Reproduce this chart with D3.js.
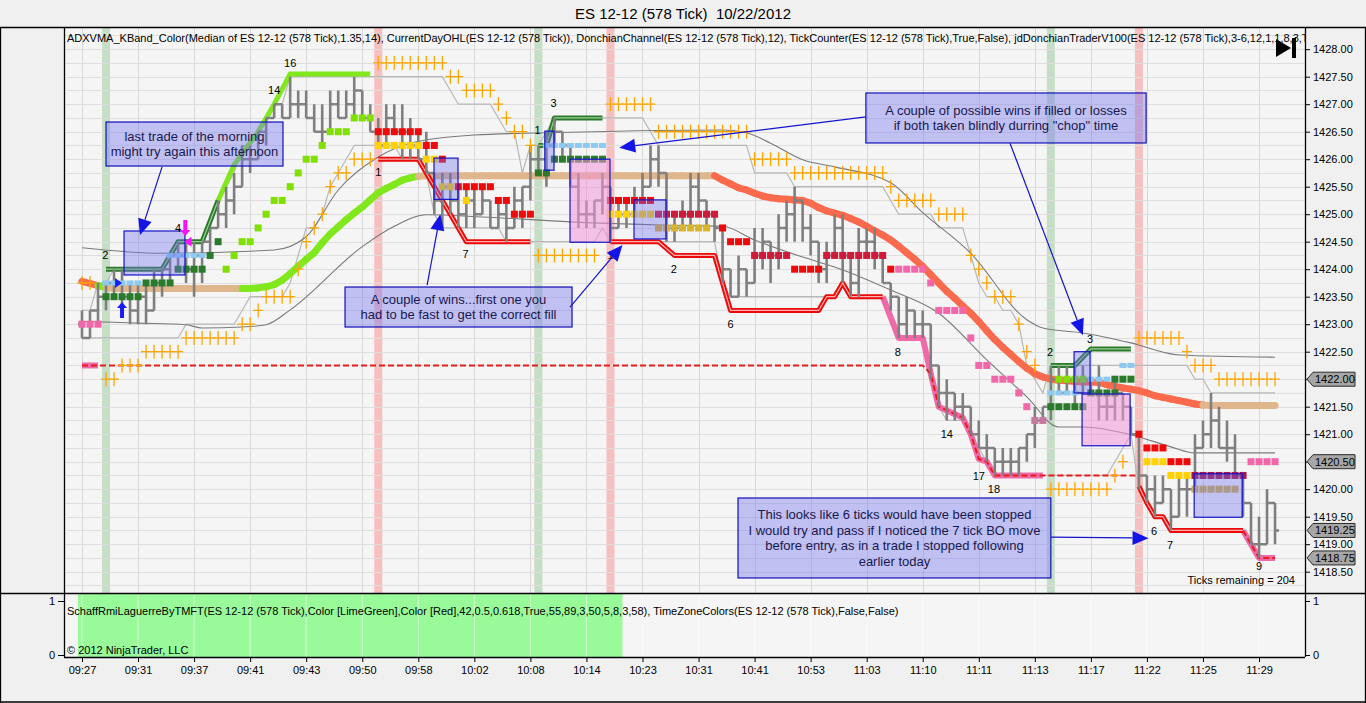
<!DOCTYPE html>
<html><head><meta charset="utf-8">
<script src="https://cdn.jsdelivr.net/npm/d3@7"></script>
<style>
html,body{margin:0;padding:0;background:#f0f0f0;overflow:hidden}
svg{display:block;font-family:Arial,"Liberation Sans",sans-serif}
text{white-space:pre}
</style></head><body>
<svg id="c" width="1366" height="703"></svg>
<script>
// ---------------- DATA ----------------
const chartTitle = "ES 12-12 (578 Tick)  10/22/2012";
const indicatorText = "ADXVMA_KBand_Color(Median of ES 12-12 (578 Tick),1.35,14), CurrentDayOHL(ES 12-12 (578 Tick)), DonchianChannel(ES 12-12 (578 Tick),12), TickCounter(ES 12-12 (578 Tick),True,False), jdDonchianTraderV100(ES 12-12 (578 Tick),3-6,12,1,1,8,3,True)";
const lowerText = "SchaffRmiLaguerreByTMFT(ES 12-12 (578 Tick),Color [LimeGreen],Color [Red],42,0.5,0.618,True,55,89,3,50,5,8,3,58), TimeZoneColors(ES 12-12 (578 Tick),False,False)";
const copyrightText = "\u00A9 2012 NinjaTrader, LLC";
const ticksRemainingText = "Ticks remaining = 204";

const timeLabels = ['09:27','09:31','09:37','09:41','09:43','09:50','09:58','10:02','10:08','10:14','10:23','10:31','10:41','10:53','11:03','11:10','11:11','11:13','11:17','11:22','11:25','11:29'];
const timeBarIdx = [0,7,14,21,28,35,42,49,56,63,70,77,84,91,98,105,112,119,126,133,140,147];
const priceTicks = [1418.5,1419,1419.5,1420,1420.5,1421,1421.5,1422,1422.5,1423,1423.5,1424,1424.5,1425,1425.5,1426,1426.5,1427,1427.5,1428];
const lastValueTags = [1422.00,1420.50,1419.25,1418.75];

const barOpen = [1423.0,1422.75,1423.25,1423.5,1423.75,1423.75,1423.5,1423.25,1423.5,1423.25,
 1423.75,1424.0,1424.25,1424.25,1424.0,1424.25,1424.5,1424.75,1425.0,1425.25,
 1425.5,1426.0,1426.0,1426.5,1426.75,1427.0,1426.75,1427.0,1427.0,1426.75,
 1426.5,1426.5,1427.0,1426.75,1427.0,1427.25,1426.75,1426.5,1426.25,1426.75,
 1426.5,1426.5,1426.25,1426.0,1425.75,1425.25,1425.5,1425.25,1425.0,1425.25,
 1425.0,1425.25,1424.75,1425.0,1424.75,1425.25,1425.5,1426.0,1426.0,1426.25,
 1426.5,1426.25,1425.5,1425.0,1425.0,1425.25,1425.5,1424.75,1425.0,1425.0,
 1425.25,1425.5,1426.0,1425.75,1424.75,1424.75,1425.0,1425.5,1425.25,1425.0,
 1424.75,1424.0,1423.5,1424.0,1423.75,1424.25,1424.5,1424.25,1424.75,1425.0,
 1425.25,1424.75,1424.5,1424.0,1424.25,1424.75,1424.25,1423.75,1424.5,1424.5,
 1424.25,1423.75,1423.5,1423.0,1423.25,1423.0,1423.0,1422.25,1421.75,1421.75,
 1421.5,1421.5,1421.0,1420.75,1420.75,1420.5,1420.5,1420.5,1420.75,1421.0,
 1421.25,1421.5,1422.0,1421.75,1422.0,1421.75,1422.0,1421.75,1421.5,1421.5,
 1421.75,1421.5,1421.0,1420.25,1420.0,1419.75,1420.0,1419.5,1420.0,1420.0,
 1420.75,1421.0,1421.25,1420.75,1420.75,1420.25,1419.75,1419.0,1419.0,1419.75];
const barHigh = [1423.25,1423.25,1423.75,1423.75,1424.0,1424.0,1423.75,1423.75,1423.75,1424.0,
 1424.0,1424.25,1424.5,1424.5,1424.5,1424.5,1424.75,1425.25,1425.5,1425.75,
 1426.25,1426.25,1426.5,1426.75,1427.0,1427.0,1427.5,1427.25,1427.25,1427.0,
 1427.0,1427.25,1427.25,1427.25,1427.5,1427.25,1427.0,1426.75,1427.0,1427.0,
 1427.0,1426.75,1426.5,1426.5,1425.75,1425.75,1425.75,1425.5,1425.5,1425.5,
 1425.5,1425.25,1425.25,1425.25,1425.5,1425.5,1426.25,1426.25,1426.5,1426.75,
 1426.5,1426.25,1425.75,1425.25,1425.25,1425.75,1425.5,1425.25,1425.25,1425.5,
 1425.75,1426.25,1426.25,1425.75,1425.0,1425.25,1425.75,1425.75,1425.25,1425.0,
 1424.75,1424.0,1424.25,1424.0,1424.75,1424.75,1424.5,1425.0,1425.25,1425.5,
 1425.25,1425.0,1424.5,1424.5,1425.0,1425.0,1424.25,1424.75,1424.75,1424.75,
 1424.25,1423.75,1423.5,1423.5,1423.25,1423.25,1423.0,1422.25,1422.0,1421.75,
 1421.75,1421.5,1421.25,1421.0,1420.75,1420.75,1420.75,1420.75,1421.0,1421.5,
 1421.5,1422.25,1422.25,1422.25,1422.25,1422.25,1422.0,1422.25,1421.75,1422.0,
 1421.75,1421.5,1421.0,1420.25,1420.25,1420.25,1420.0,1420.25,1420.25,1421.0,
 1421.25,1421.75,1421.5,1421.25,1421.0,1420.25,1419.75,1419.5,1420.0,1419.75];
const barLow = [1422.75,1422.75,1423.0,1423.25,1423.5,1423.25,1423.0,1423.0,1423.0,1423.25,
 1423.5,1423.75,1424.0,1423.75,1423.5,1423.75,1424.25,1424.75,1424.75,1425.0,
 1425.5,1425.75,1426.0,1426.25,1426.75,1426.75,1426.75,1426.75,1426.75,1426.5,
 1426.25,1426.5,1426.75,1426.75,1426.75,1426.75,1426.5,1426.25,1426.25,1426.5,
 1426.0,1426.0,1426.0,1425.75,1425.0,1424.75,1425.0,1424.75,1424.75,1424.75,
 1425.0,1424.75,1424.75,1424.5,1424.75,1424.75,1425.25,1425.75,1425.5,1426.25,
 1426.0,1425.5,1424.75,1424.75,1424.75,1425.0,1424.5,1424.75,1424.75,1425.0,
 1425.25,1425.5,1425.5,1424.5,1424.5,1424.75,1424.75,1425.0,1424.75,1424.5,
 1423.75,1423.5,1423.5,1423.5,1423.75,1424.0,1423.75,1424.0,1424.5,1424.5,
 1424.5,1424.25,1423.75,1423.75,1424.25,1423.75,1423.5,1423.5,1424.25,1424.0,
 1423.75,1423.25,1422.75,1422.75,1422.75,1422.75,1422.0,1421.5,1421.25,1421.25,
 1421.25,1421.0,1420.75,1420.5,1420.25,1420.25,1420.25,1420.25,1420.5,1420.75,
 1421.25,1421.25,1421.75,1421.75,1421.5,1421.75,1421.75,1421.25,1421.25,1421.25,
 1421.25,1421.0,1420.0,1419.75,1419.5,1419.75,1419.25,1419.5,1419.5,1420.0,
 1420.75,1420.75,1420.75,1420.5,1420.25,1419.5,1419.0,1418.75,1419.0,1419.0];
const barClose = [1422.75,1423.25,1423.5,1423.75,1423.75,1423.5,1423.25,1423.5,1423.25,1423.75,
 1424.0,1424.25,1424.25,1424.0,1424.25,1424.5,1424.75,1425.0,1425.25,1425.5,
 1426.0,1426.0,1426.5,1426.75,1427.0,1426.75,1427.0,1427.0,1426.75,1426.5,
 1426.5,1427.0,1426.75,1427.0,1427.25,1426.75,1426.5,1426.25,1426.75,1426.5,
 1426.5,1426.25,1426.0,1425.75,1425.25,1425.5,1425.25,1425.0,1425.25,1425.0,
 1425.25,1424.75,1425.0,1424.75,1425.25,1425.5,1426.0,1426.0,1426.25,1426.5,
 1426.25,1425.5,1425.0,1425.0,1425.25,1425.5,1424.75,1425.0,1425.0,1425.25,
 1425.5,1426.0,1425.75,1424.75,1424.75,1425.0,1425.5,1425.25,1425.0,1424.75,
 1424.0,1423.5,1424.0,1423.75,1424.25,1424.5,1424.25,1424.75,1425.0,1425.25,
 1424.75,1424.5,1424.0,1424.25,1424.75,1424.25,1423.75,1424.5,1424.5,1424.25,
 1423.75,1423.5,1423.0,1423.25,1423.0,1423.0,1422.25,1421.75,1421.75,1421.5,
 1421.5,1421.0,1420.75,1420.75,1420.5,1420.5,1420.5,1420.75,1421.0,1421.25,
 1421.5,1422.0,1421.75,1422.0,1421.75,1422.0,1421.75,1421.5,1421.5,1421.75,
 1421.5,1421.0,1420.25,1420.0,1419.75,1420.0,1419.5,1420.0,1420.0,1420.75,
 1421.0,1421.25,1420.75,1420.75,1420.25,1419.75,1419.0,1419.0,1419.75,1419.25];

const adxvma = [1423.78,1423.74,1423.70,1423.67,1423.65,1423.65,1423.65,1423.65,1423.65,1423.65,
 1423.65,1423.65,1423.65,1423.65,1423.65,1423.65,1423.65,1423.65,1423.65,1423.65,
 1423.65,1423.65,1423.66,1423.68,1423.72,1423.80,1423.92,1424.05,1424.18,1424.30,
 1424.48,1424.64,1424.77,1424.90,1425.02,1425.13,1425.26,1425.39,1425.47,1425.54,
 1425.62,1425.66,1425.69,1425.70,1425.70,1425.70,1425.70,1425.70,1425.70,1425.70,
 1425.70,1425.70,1425.70,1425.70,1425.70,1425.70,1425.70,1425.70,1425.70,1425.70,
 1425.70,1425.70,1425.70,1425.70,1425.70,1425.70,1425.70,1425.70,1425.70,1425.70,
 1425.70,1425.70,1425.70,1425.70,1425.70,1425.70,1425.70,1425.70,1425.70,1425.70,
 1425.62,1425.55,1425.48,1425.44,1425.38,1425.33,1425.30,1425.28,1425.27,1425.26,
 1425.25,1425.20,1425.12,1425.06,1425.02,1424.98,1424.92,1424.86,1424.78,1424.70,
 1424.62,1424.53,1424.42,1424.30,1424.18,1424.05,1423.90,1423.75,1423.60,1423.47,
 1423.33,1423.20,1423.05,1422.88,1422.72,1422.58,1422.45,1422.32,1422.20,1422.10,
 1422.04,1422.00,1421.98,1421.97,1421.96,1421.95,1421.95,1421.94,1421.90,1421.87,
 1421.84,1421.82,1421.79,1421.75,1421.70,1421.67,1421.64,1421.61,1421.58,1421.55,
 1421.53,1421.52,1421.52,1421.52,1421.52,1421.52,1421.52,1421.52,1421.52,1421.52];
// ADXVMA state runs: D = falling, U = rising, F = flat
const adxStateRuns = [[0,2,'D'],[3,3,'U'],[4,20,'F'],[21,42,'U'],[43,79,'F'],[80,140,'D'],[141,149,'F']];

// Keltner band points: [bar, price]
const keltnerUpper = [[0,1424.39],[10,1424.29],[24,1424.35],[28,1424.59],[32,1425.44],[37,1426.04],[41,1426.29],[49,1426.44],[61,1426.49],[80,1426.53],[83,1426.48],[86,1426.29],[90,1425.99],[94,1425.86],[101,1425.57],[105,1425.03],[111,1424.29],[118,1423.08],[120,1422.93],[125,1422.84],[131,1422.66],[137,1422.44],[149,1422.40]];
const keltnerLower = [[0,1423.05],[3,1423.04],[7,1423.02],[13,1422.99],[15,1422.93],[20,1422.95],[23,1422.99],[26,1423.26],[35,1424.41],[39,1424.78],[43,1424.99],[50,1424.95],[61,1424.86],[73,1424.80],[80,1424.78],[84,1424.53],[90,1424.22],[94,1424.04],[101,1423.62],[107,1423.20],[113,1422.35],[118,1421.68],[122,1421.13],[125,1421.13],[131,1420.99],[136,1420.77],[139,1420.66],[149,1420.66]];

// trailing-stop cross markers: [fromBar, toBar, price]
const psarRuns = [[0,1,1423.75],[3,4,1422.0],[5,7,1422.25],[8,12,1422.5],[13,19,1422.75],[20,21,1423.0],[22,22,1423.25],[23,26,1423.5],[27,27,1424.0],[28,28,1424.5],[29,29,1424.75],[30,30,1425.0],[31,31,1425.5],[32,33,1425.75],[34,36,1426.0],[37,45,1427.75],[46,47,1427.5],[48,51,1427.25],[52,52,1427.0],[53,53,1426.75],[54,55,1426.5],[56,56,1426.25],[57,64,1424.25],[66,71,1427.0],[72,83,1426.5],[84,88,1426.0],[89,100,1425.75],[101,101,1425.5],[102,106,1425.25],[107,110,1425.0],[111,111,1424.25],[112,112,1424.0],[113,113,1423.75],[114,116,1423.5],[117,117,1423.0],[118,118,1422.5],[119,119,1422.25],[121,128,1420.0],[129,129,1420.25],[130,130,1420.5],[132,137,1422.75],[138,138,1422.5],[139,141,1422.25],[142,149,1422.0]];

// square markers: [fromBar, toBar, price, kind]
const squareRuns = [
 [0,2,1423.0,'pink'],
 [3,7,1423.5,'dkgreen'],[8,11,1423.75,'dkgreen'],[12,15,1424.0,'dkgreen'],[16,16,1424.25,'dkgreen'],[17,17,1424.5,'dkgreen'],
 [3,7,1423.75,'ltblue'],[11,15,1424.25,'ltblue'],
 [18,18,1424.0,'lime'],[19,19,1424.25,'lime'],[20,21,1424.5,'lime'],[22,22,1424.75,'lime'],[23,23,1425.0,'lime'],[24,25,1425.25,'lime'],[26,26,1425.5,'lime'],[27,27,1425.75,'lime'],[28,29,1426.0,'lime'],[30,30,1426.25,'lime'],[31,33,1426.5,'lime'],[34,36,1426.75,'lime'],
 [37,42,1426.5,'red'],[43,44,1426.25,'red'],[45,45,1426.0,'red'],[47,51,1425.5,'red'],[52,53,1425.25,'red'],[54,56,1425.0,'red'],
 [37,42,1426.25,'yellow'],[43,44,1426.0,'yellow'],[45,46,1425.5,'yellow'],[48,48,1425.25,'yellow'],
 [57,58,1425.75,'dkgreen'],[59,65,1426.0,'dkgreen'],[58,65,1426.25,'ltblue'],
 [66,71,1425.25,'red'],[66,71,1425.0,'yellow'],
 [72,79,1425.0,'crimson'],[72,78,1424.75,'gold'],
 [80,80,1424.75,'red'],[81,83,1424.5,'red'],[84,88,1424.25,'crimson'],[89,92,1424.0,'red'],[93,100,1424.25,'crimson'],[101,101,1424.0,'red'],
 [102,105,1424.0,'pink'],[106,106,1423.75,'pink'],[107,110,1423.25,'pink'],[111,111,1422.75,'pink'],[112,113,1422.25,'pink'],[114,116,1422.0,'pink'],[117,117,1421.75,'pink'],[118,118,1421.5,'pink'],[119,120,1421.25,'mauve'],
 [121,125,1421.5,'dkgreen'],[126,129,1421.75,'dkgreen'],[129,131,1422.0,'dkgreen'],
 [121,124,1421.75,'ltblue'],[126,128,1422.0,'ltblue'],[130,131,1422.25,'ltblue'],
 [122,125,1422.0,'lime'],
 [132,132,1421.0,'red'],[133,135,1420.75,'red'],[136,138,1420.5,'red'],
 [133,135,1420.5,'yellow'],[136,138,1420.25,'yellow'],
 [139,145,1420.25,'maroon'],[139,144,1420.0,'olive'],
 [146,149,1420.5,'pink']
];

// stop lines: [bar, price] points
const longStops = [
 [[3,1424.0],[10,1424.0],[12,1424.5],[15,1424.5],[17,1425.25]],
 [[57,1426.25],[58,1426.25],[59,1426.75],[65,1426.75]],
 [[121,1422.25],[124,1422.25],[126,1422.55],[131,1422.55]]
];
const trailHigh = [[17,1425.25],[19,1425.9],[22,1426.5],[24,1427.0],[26,1427.55],[36,1427.55]];
const shortStops = [
 [[37,1426.0],[42,1426.0],[48,1424.5],[56,1424.5]],
 [[66,1424.5],[72,1424.5],[74,1424.25],[79,1424.25],[81,1423.25],[92,1423.25],[93,1423.5],[94,1423.5],[95,1423.75],[96,1423.5],[100,1423.5]],
 [[132,1420.05],[133,1419.75],[134,1419.5],[135,1419.5],[136,1419.25],[145,1419.25]]
];
const trailLow = [
 [[0,1422.25],[2,1422.25]],
 [[100,1423.5],[102,1422.75],[105,1422.75],[106,1422.1],[107,1421.5],[110,1421.3],[111,1421.0],[112,1420.55],[113,1420.5],[114,1420.25],[120,1420.25]],
 [[145,1419.25],[146,1419.0],[147,1418.75],[149,1418.75]]
];
const stopLevel = [
 [[0,1422.25],[105,1422.25],[106,1422.1],[107,1421.5],[110,1421.3],[111,1421.0],[112,1420.55],[113,1420.5],[114,1420.25],[132,1420.25]],
 [[145,1419.25],[146,1419.0],[147,1418.75],[149,1418.75]]
];

const tradeLabels = [[2.9,1424.26,'2'],[12,1424.75,'4'],[24,1427.25,'14'],[26,1427.75,'16'],[37,1425.77,'1'],[47.9,1424.28,'7'],[56.9,1426.53,'1'],[58.9,1427.02,'3'],[66,1424.26,'1'],[73.9,1424.0,'2'],[81,1423.0,'6'],[101.9,1422.49,'8'],[108,1421.0,'14'],[112,1420.24,'17'],[113.9,1420.0,'18'],[120.9,1422.49,'2'],[125.9,1422.74,'3'],[133.9,1419.24,'6'],[135.9,1418.99,'7'],[147,1418.6,'9']];

const greenZoneBars = [3,57,121];
const pinkZoneBars = [37,66,132];
const schaffOnRuns = [[0,67]];

// trade rectangles: [barFrom, barTo, priceTop, priceBottom, kind]
const tradeBoxes = [[5.25,12.86,1424.695,1423.895,'b'],[43.96,46.96,1426.02,1425.27,'b'],[57.8,58.95,1426.51,1425.80,'b'],[60.95,65.94,1426.0,1424.49,'p'],[68.94,72.94,1425.26,1424.55,'b'],[123.9,125.9,1422.5,1421.75,'b'],[124.9,130.9,1421.73,1420.79,'p'],[138.9,144.9,1420.28,1419.49,'b']];

const notes = [
 {b0:3.0, b1:25.1, pT:1426.676, pB:1425.876, lines:["last trade of the morning","might try again this afternoon"]},
 {b0:32.85, b1:61.2, pT:1423.676, pB:1422.949, lines:["A couple of wins...first one you","had to be fast to get the correct fill"]},
 {b0:97.9, b1:132.9, pT:1427.204, pB:1426.295, lines:["A couple of possible wins if filled or losses","if both taken blindly durring \"chop\" time"]},
 {b0:81.93, b1:121.0, pT:1419.84, pB:1418.386, lines:["This looks like 6 ticks would have been stopped","I would try and pass if I noticed the 7 tick BO move","before entry, as in a trade I stopped following","earlier today"]}
];
const noteArrows = [[10,1425.86,7.24,1424.62],[43.1,1423.71,44.75,1425.0],[60.95,1423.31,67.5,1424.44],[97.9,1426.77,67.1,1426.21],[115.9,1426.29,125.0,1422.80],[121.0,1419.13,133.2,1419.11]];

// ---------------- DRAWING ----------------
const svg = d3.select('#c');
const X0=64, X1=1305, Y0=27, Y1=593, Y2=657;
const FONT = 'Arial, "Liberation Sans", sans-serif';
const x = d3.scaleLinear().domain([0,149]).range([82, 82+149*8.007]);
const y = d3.scaleLinear().domain([1418.5,1428]).range([571.7,49.2]);
const ys = d3.scaleLinear().domain([0,1]).range([655,601]);
const bw = x(1)-x(0);

svg.append('rect').attr('width',1366).attr('height',703).attr('fill','#f0f0f0');
svg.append('rect').attr('x',X0).attr('y',Y0).attr('width',X1-X0).attr('height',Y2-Y0).attr('fill','#f5f5f5');

const defs = svg.append('defs');
defs.append('clipPath').attr('id','cm').append('rect').attr('x',X0).attr('y',Y0).attr('width',X1-X0).attr('height',Y1-Y0);
defs.append('clipPath').attr('id','cl').append('rect').attr('x',X0).attr('y',Y1).attr('width',X1-X0).attr('height',Y2-Y1);

// lower panel
const gl = svg.append('g').attr('clip-path','url(#cl)');
schaffOnRuns.forEach(r=>{
  gl.append('rect').attr('x',x(r[0])-bw/2).attr('y',Y1).attr('width',x(r[1])-x(r[0])+bw).attr('height',Y2-Y1).attr('fill','#98fa98');
});
gl.selectAll('line.vg').data(timeBarIdx).join('line').attr('x1',d=>x(d)).attr('x2',d=>x(d)).attr('y1',Y1).attr('y2',Y2).attr('stroke','#ffffff').attr('stroke-opacity',0.55);

const g = svg.append('g').attr('clip-path','url(#cm)');
// time zone bands
g.selectAll('rect.gz').data(greenZoneBars).join('rect').attr('x',d=>x(d)-bw/2).attr('y',Y0).attr('width',bw).attr('height',Y1-Y0).attr('fill','rgba(120,185,120,0.38)');
g.selectAll('rect.pz').data(pinkZoneBars).join('rect').attr('x',d=>x(d)-bw/2).attr('y',Y0).attr('width',bw).attr('height',Y1-Y0).attr('fill','rgba(250,120,120,0.42)');
// grid
const gridVals = d3.range(1418.25, 1428.3, 0.25);
g.selectAll('line.hg').data(gridVals).join('line').attr('x1',X0).attr('x2',X1).attr('y1',d=>Math.round(y(d))+0.5).attr('y2',d=>Math.round(y(d))+0.5).attr('stroke','#dedede').attr('stroke-width',1);
g.selectAll('line.vg').data(timeBarIdx).join('line').attr('x1',d=>Math.round(x(d))+0.5).attr('x2',d=>Math.round(x(d))+0.5).attr('y1',Y0).attr('y2',Y1).attr('stroke','#d8d8d8');

// Donchian channel (12)
const donUp = barHigh.map((h,i)=>d3.max(barHigh.slice(Math.max(0,i-11),i+1)));
const donLo = barLow.map((h,i)=>d3.min(barLow.slice(Math.max(0,i-11),i+1)));
const lineIdx = d3.line().x((d,i)=>x(i)).y(d=>y(d));
g.append('path').attr('d',lineIdx(donUp)).attr('fill','none').attr('stroke','#b8b8b8').attr('stroke-width',1.2);
g.append('path').attr('d',lineIdx(donLo)).attr('fill','none').attr('stroke','#b8b8b8').attr('stroke-width',1.2);

// Keltner
const lineKP = d3.line().x(d=>x(d[0])).y(d=>y(d[1])).curve(d3.curveMonotoneX);
[keltnerUpper,keltnerLower].forEach(pts=>g.append('path').attr('d',lineKP(pts)).attr('fill','none').attr('stroke','#7a7a7a').attr('stroke-width',1.1));

// ADXVMA
const adxColor = {D:'#fb6a4c',U:'#80e81c',F:'#e0b68c'};
const stateAt = i => { const r = adxStateRuns.find(r=>i>=r[0]&&i<=r[1]); return r?r[2]:'F'; };
for(let i=0;i<adxvma.length-1;i++){
  g.append('line').attr('x1',x(i)).attr('y1',y(adxvma[i])).attr('x2',x(i+1)).attr('y2',y(adxvma[i+1]))
   .attr('stroke',adxColor[stateAt(i+1)]).attr('stroke-width',7).attr('stroke-linecap','round');
}

// stops
const lineP = d3.line().x(d=>x(d[0])).y(d=>y(d[1]));
function dbl(pts,outer,inner,w){
  g.append('path').attr('d',lineP(pts)).attr('fill','none').attr('stroke',outer).attr('stroke-width',w).attr('stroke-linejoin','round');
  if(inner) g.append('path').attr('d',lineP(pts)).attr('fill','none').attr('stroke',inner).attr('stroke-width',1.2).attr('stroke-linejoin','round');
}
trailLow.forEach(p=>dbl(p,'#f06aa8',null,6));
g.append('path').attr('d',lineP(trailHigh)).attr('fill','none').attr('stroke','#80e81c').attr('stroke-width',5).attr('stroke-linejoin','round');
longStops.forEach(p=>dbl(p,'#2a7a2a','#9ad09a',5));
shortStops.forEach(p=>dbl(p,'#ea0a0a','#ffb0b0',5));
stopLevel.forEach(p=>g.append('path').attr('d',lineP(p)).attr('fill','none').attr('stroke','#e41e1e').attr('stroke-width',2).attr('stroke-dasharray','6,3'));

// price bars
const bars = barHigh.map((h,i)=>({i,o:barOpen[i],h,l:barLow[i],c:barClose[i]}));
g.selectAll('path.bar').data(bars).join('path')
 .attr('d',d=>`M${x(d.i)},${y(d.h)}V${y(d.l)}M${x(d.i)-4},${y(d.o)}H${x(d.i)}M${x(d.i)},${y(d.c)}H${x(d.i)+4}`)
 .attr('fill','none').attr('stroke','#7f7f7f').attr('stroke-width',2.6);

// squares
const sqColor = {pink:'#f466aa',dkgreen:'#2b7a2b',ltblue:'#8ccaf4',lime:'#80e000',red:'#ee0a0a',yellow:'#ffd200',crimson:'#cf1a3a',gold:'#dcb428',mauve:'#c77aa0',maroon:'#a8164a',olive:'#d2b44a'};
const sqs = [];
squareRuns.forEach(r=>{ for(let k=r[0];k<=r[1];k++) sqs.push({k,p:r[2],t:r[3]}); });
g.selectAll('rect.sq').data(sqs).join('rect')
 .attr('x',d=>x(d.k)-3.5).attr('y',d=>y(d.p)-(d.t==='ltblue'?2.5:3.5))
 .attr('width',7).attr('height',d=>d.t==='ltblue'?5:7).attr('fill',d=>sqColor[d.t]);

// crosses
const crs = [];
psarRuns.forEach(r=>{ for(let k=r[0];k<=r[1];k++) crs.push({k,p:r[2]}); });
g.selectAll('path.cr').data(crs).join('path')
 .attr('d',d=>`M${x(d.k)-5},${y(d.p)}H${x(d.k)+5}M${x(d.k)},${y(d.p)-7}V${y(d.p)+7}`)
 .attr('stroke','#ffa500').attr('stroke-width',1.3).attr('fill','none');

// trade rectangles
tradeBoxes.forEach(b=>{
  g.append('rect').attr('x',x(b[0])).attr('y',y(b[2])).attr('width',x(b[1])-x(b[0])).attr('height',y(b[3])-y(b[2]))
   .attr('fill',b[4]==='p'?'rgba(238,150,215,0.55)':'rgba(110,110,240,0.38)').attr('stroke','#1414c8').attr('stroke-width',1.2);
});

// markers
function arrowShape(cx,cy,dir,color){
  const s = dir; // 1 = up, -1 = down
  g.append('path').attr('d',`M${cx},${cy-8*s}L${cx+5},${cy-2*s}L${cx+2},${cy-2*s}L${cx+2},${cy+8*s}L${cx-2},${cy+8*s}L${cx-2},${cy-2*s}L${cx-5},${cy-2*s}Z`).attr('fill',color);
}
arrowShape(x(5),y(1423.26),1,'#1a1aff');
arrowShape(x(12.9),y(1424.75),-1,'#ff10ff');
g.append('path').attr('d',`M${x(4.5)-3},${y(1423.75)-5}L${x(4.5)+4},${y(1423.75)}L${x(4.5)-3},${y(1423.75)+5}Z`).attr('fill','#1a1aff');
g.append('path').attr('d',`M${x(13.3)+3},${y(1424.5)-5}L${x(13.3)-4},${y(1424.5)}L${x(13.3)+3},${y(1424.5)+5}Z`).attr('fill','#ff10ff');

// trade count labels
g.selectAll('text.tl').data(tradeLabels).join('text')
 .attr('x',d=>x(d[0])).attr('y',d=>y(d[1])+4).attr('text-anchor','middle')
 .attr('font-size',11).attr('font-family',FONT).attr('fill','#000').text(d=>d[2]);

// notes
notes.forEach(n=>{
  const x0=x(n.b0), x1=x(n.b1), y0=y(n.pT), y1=y(n.pB);
  g.append('rect').attr('x',x0).attr('y',y0).attr('width',x1-x0).attr('height',y1-y0)
   .attr('fill','rgba(120,120,240,0.42)').attr('stroke','#1010b8').attr('stroke-width',1.2);
  const lh = 15.5, tot = n.lines.length*lh, cy0 = (y0+y1)/2 - tot/2 + lh/2;
  n.lines.forEach((t,i)=>{
    g.append('text').attr('x',(x0+x1)/2).attr('y',cy0+i*lh+4.5).attr('text-anchor','middle')
     .attr('font-size',13).attr('font-family',FONT).attr('fill','#18184e').text(t);
  });
});
noteArrows.forEach(a=>{
  const sx=x(a[0]), sy=y(a[1]), ex=x(a[2]), ey=y(a[3]);
  const ang=Math.atan2(ey-sy,ex-sx), L=16, Wd=7;
  const bx=ex-L*Math.cos(ang), by=ey-L*Math.sin(ang);
  g.append('line').attr('x1',sx).attr('y1',sy).attr('x2',bx).attr('y2',by).attr('stroke','#1414d0').attr('stroke-width',1.2);
  g.append('path').attr('d',`M${ex},${ey}L${bx-Wd*Math.sin(ang)},${by+Wd*Math.cos(ang)}L${bx+Wd*Math.sin(ang)},${by-Wd*Math.cos(ang)}Z`).attr('fill','#1414e6');
});

// indicator texts
g.append('text').attr('x',67).attr('y',42).attr('font-size',11).attr('font-family',FONT).attr('fill','#000').text(indicatorText);
g.append('path').attr('d','M1276,39L1276,57L1291,48Z').attr('fill','#000');
g.append('rect').attr('x',1292).attr('y',38).attr('width',4).attr('height',20).attr('fill','#000');
g.append('text').attr('x',1295).attr('y',584).attr('text-anchor','end').attr('font-size',11).attr('font-family',FONT).attr('fill','#000').text(ticksRemainingText);
gl.append('text').attr('x',67).attr('y',615).attr('font-size',11).attr('font-family',FONT).attr('fill','#000').text(lowerText);
gl.append('text').attr('x',67).attr('y',654).attr('font-size',11).attr('font-family',FONT).attr('fill','#000').text(copyrightText);

// axes
function axisStyle(sel){ sel.select('.domain').remove(); sel.selectAll('text').attr('font-size',11).attr('font-family',FONT).attr('fill','#000'); sel.selectAll('line').attr('stroke','#000'); }
svg.append('g').attr('transform',`translate(${X1},0)`).call(d3.axisRight(y).tickValues(priceTicks).tickFormat(d3.format('.2f')).tickSize(5).tickPadding(3)).call(axisStyle);
svg.append('g').attr('transform',`translate(0,${Y2})`).call(d3.axisBottom(x).tickValues(timeBarIdx).tickFormat((d,i)=>timeLabels[i]).tickSize(5).tickPadding(4)).call(axisStyle);
svg.append('g').attr('transform',`translate(${X0},0)`).call(d3.axisLeft(ys).tickValues([0,1]).tickFormat(d3.format('d')).tickSize(6).tickPadding(3)).call(axisStyle);
svg.append('g').attr('transform',`translate(${X1},0)`).call(d3.axisRight(ys).tickValues([0,1]).tickFormat(d3.format('d')).tickSize(5).tickPadding(3)).call(axisStyle);

// last value tags
lastValueTags.forEach(v=>{
  const yy=y(v);
  svg.append('path').attr('d',`M1307,${yy}L1313,${yy-7}L1355,${yy-7}L1355,${yy+7}L1313,${yy+7}Z`).attr('fill','#a6a6a6').attr('stroke','#2a2a2a').attr('stroke-width',1);
  svg.append('text').attr('x',1315).attr('y',yy+4).attr('font-size',11).attr('font-family',FONT).attr('fill','#000').text(d3.format('.2f')(v));
});

// borders & title
const bl = (x1,y1,x2,y2)=>svg.append('line').attr('x1',x1).attr('y1',y1).attr('x2',x2).attr('y2',y2).attr('stroke','#000').attr('stroke-width',1.3);
bl(0,27.5,1366,27.5); bl(0,593.5,1366,593.5); bl(X0+0.5,27,X0+0.5,Y2); bl(X1+0.5,27,X1+0.5,Y2); bl(X0,Y2+0.5,X1,Y2+0.5);
bl(0.5,27,0.5,703); bl(0,702,1366,702); bl(1365.5,27,1365.5,703);
svg.append('text').attr('x',683).attr('y',19).attr('text-anchor','middle').attr('font-size',15).attr('font-family',FONT).attr('fill','#000').attr('xml:space','preserve').text(chartTitle);
</script>
</body></html>
